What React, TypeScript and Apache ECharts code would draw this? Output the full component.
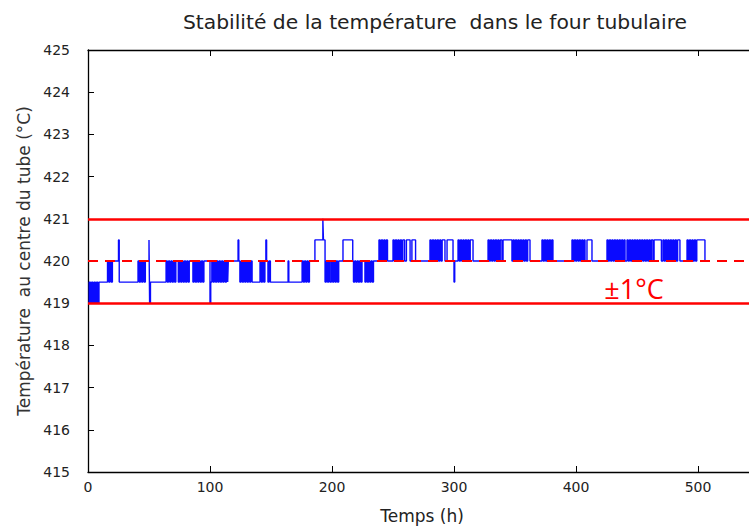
import React, { useEffect, useRef } from "react";
import * as echarts from "echarts";

// [hour, °C] step readings (value holds until the next reading)
const readings: [number, number][] = [
  [0, 419], [1, 419.5], [2, 419], [3, 419.5], [4, 419], [5, 419.5], [6, 419], [7, 419.5], [8, 419], [9, 419.5],
  [16, 420], [17, 419.5], [18, 420], [19, 419.5], [20, 420],
  [25, 420.5], [25.6, 419.5],
  [41, 420], [42, 419.5], [43, 420], [44, 419.5], [45, 420], [46, 419.5], [47, 420],
  [50, 420.5], [50.5, 419], [51.2, 419.5],
  [64, 420], [65, 419.5], [66, 420], [67, 419.5], [68, 420], [69, 419.5], [70, 420], [71, 419.5], [72, 420],
  [74, 419.5], [75, 420], [76, 419.5], [77, 420], [78, 419.5], [79, 420], [80, 419.5], [81, 420], [82, 419.5], [83, 420],
  [86, 419.5], [87, 420], [88, 419.5], [89, 420], [90, 419.5], [91, 420], [92, 419.5], [93, 420], [94, 419.5], [95, 420],
  [100, 419], [100.6, 419.5], [101.5, 420], [102.5, 419.5], [103.5, 420], [104.5, 419.5], [105.5, 420], [106.5, 419.5],
  [107.5, 420], [108.5, 419.5], [109.5, 420], [110.5, 419.5], [111.5, 420], [112.5, 419.5], [113.5, 420], [114.5, 419.5], [115, 420],
  [123, 420.5], [123.6, 420],
  [124.5, 419.5], [125.5, 420], [126.5, 419.5], [127.5, 420], [128.5, 419.5], [129.5, 420], [130.5, 419.5], [131.5, 420],
  [132.5, 419.5], [133.5, 420], [134.5, 419.5],
  [141, 420], [142, 419.5], [143, 420], [144, 419.5], [145, 420], [145.8, 420.5], [146.4, 420], [147.5, 419.5], [148.5, 420], [149.5, 419.5],
  [164, 420], [164.6, 419.5],
  [175.5, 420], [176.5, 419.5], [177.5, 420], [178.5, 419.5], [179.5, 420], [180.5, 419.5], [181.5, 420],
  [186, 420.5], [192.5, 421], [193, 420.5], [194.3, 419.5], [195.3, 420], [196.3, 419.5], [197.3, 420], [198.3, 419.5],
  [199.5, 420], [200.5, 419.5], [201.5, 420], [202.5, 419.5], [203.5, 420], [204.5, 419.5], [205.5, 420],
  [209, 420.5], [217, 420], [217.6, 419.5], [218.6, 420], [219.6, 419.5], [220.6, 420], [221.6, 419.5], [222.6, 420], [223.6, 419.5], [224.6, 420],
  [227, 419.5], [228, 420], [229, 419.5], [230, 420], [231, 419.5], [232, 420], [233, 419.5], [234, 420],
  [238.5, 420.5], [239.5, 420], [240.5, 420.5], [241.5, 420], [242.5, 420.5], [243.5, 420], [244.5, 420.5], [245.5, 420],
  [250, 420.5], [251, 420], [252, 420.5], [253, 420], [254, 420.5], [255, 420], [256, 420.5], [257, 420], [258, 420.5], [259.5, 420],
  [261, 420.5], [264, 420], [265.5, 420.5], [268.5, 420],
  [280.3, 420.5], [281.3, 420], [282.3, 420.5], [283.3, 420], [284.3, 420.5], [285.3, 420], [286.3, 420.5], [287.3, 420],
  [288.3, 420.5], [289.3, 420], [290.3, 420.5], [292.6, 420],
  [294.3, 420.5], [299.2, 420], [300, 419.5], [300.6, 420],
  [303.3, 420.5], [304.3, 420], [305.3, 420.5], [306.3, 420], [307.3, 420.5], [308.3, 420], [309.3, 420.5], [310.3, 420],
  [311.3, 420.5], [312.3, 420], [313.3, 420.5], [315.6, 420],
  [327.9, 420.5], [328.9, 420], [329.9, 420.5], [330.9, 420], [331.9, 420.5], [332.9, 420], [333.9, 420.5], [334.9, 420],
  [335.9, 420.5], [336.9, 420], [337.9, 420.5], [339.3, 420],
  [340.2, 420.5], [347.5, 420],
  [348.4, 420.5], [349.4, 420], [350.4, 420.5], [351.4, 420], [352.4, 420.5], [353.4, 420], [354.4, 420.5], [355.4, 420],
  [356.4, 420.5], [357.4, 420], [358.4, 420.5], [359.4, 420], [360.4, 420.5], [362.3, 420],
  [372.1, 420.5], [373.1, 420], [374.1, 420.5], [375.1, 420], [376.1, 420.5], [377.1, 420], [378.1, 420.5], [379.1, 420], [380.1, 420.5], [381.1, 420],
  [396.7, 420.5], [397.7, 420], [398.7, 420.5], [399.7, 420], [400.7, 420.5], [401.7, 420], [402.7, 420.5], [403.7, 420],
  [404.7, 420.5], [405.7, 420], [406.7, 420.5], [407.4, 420],
  [409, 420.5], [413.1, 420],
  [425.4, 420.5], [426.4, 420], [427.4, 420.5], [428.4, 420], [429.4, 420.5], [430.4, 420], [431.4, 420.5], [432.4, 420],
  [433.4, 420.5], [434.4, 420], [435.4, 420.5], [436.4, 420], [437.4, 420.5], [438.4, 420], [439.4, 420.5], [440.2, 420],
  [441.8, 420.5], [442.8, 420], [443.8, 420.5], [444.8, 420], [445.8, 420.5], [446.8, 420], [447.8, 420.5], [448.8, 420],
  [449.8, 420.5], [450.8, 420], [451.8, 420.5], [452.8, 420], [453.8, 420.5], [454.8, 420], [455.8, 420.5], [456.8, 420],
  [457.8, 420.5], [458.8, 420], [459.8, 420.5], [460.8, 420], [461.8, 420.5], [463.1, 420],
  [464, 420.5], [470, 420],
  [471.3, 420.5], [472.3, 420], [473.3, 420.5], [474.3, 420], [475.3, 420.5], [476.3, 420], [477.3, 420.5], [478.3, 420],
  [479.3, 420.5], [480.3, 420], [481.3, 420.5], [482.3, 420], [483.3, 420.5], [485.2, 420],
  [491, 420.5], [492, 420], [493, 420.5], [494, 420], [495, 420.5], [496, 420], [497, 420.5], [498, 420], [499, 420.5],
  [505.7, 420], [506, 420],
];

const setpoint = 420;
const upperLimit = 421;
const lowerLimit = 419;
const toleranceLabel = "±1°C";

const titleText = "Stabilité de la température  dans le four tubulaire";
const xName = "Temps (h)";
const yName = "Température  au centre du tube (°C)";

export default function App() {
  const ref = useRef<HTMLDivElement>(null);
  useEffect(() => {
    if (!ref.current) return;
    const chart = echarts.init(ref.current, undefined, { renderer: "svg" });
    const axisColor = "#000";
    chart.setOption({
      animation: false,
      backgroundColor: "#fff",
      grid: { left: 88, top: 50, width: 732, height: 422, outerBoundsMode: "none", containLabel: false },
      xAxis: [
        {
          type: "value",
          min: 0,
          max: 600,
          interval: 100,
          axisLine: { show: true, onZero: false, lineStyle: { color: axisColor, width: 1.3 } },
          axisTick: { show: true, inside: true, length: 6, lineStyle: { color: axisColor } },
          axisLabel: { margin: 8, color: "#222", fontSize: 14, fontFamily: "DejaVu Sans", showMaxLabel: false },
          splitLine: { show: false },
        },
        {
          type: "value",
          position: "top",
          min: 0,
          max: 600,
          interval: 100,
          axisLine: { show: true, onZero: false, lineStyle: { color: axisColor, width: 1.3 } },
          axisTick: { show: true, inside: true, length: 6, lineStyle: { color: axisColor } },
          axisLabel: { show: false },
          splitLine: { show: false },
        },
      ],
      yAxis: {
        type: "value",
        min: 415,
        max: 425,
        interval: 1,
        name: yName,
        nameLocation: "middle",
        nameRotate: 90,
        nameGap: 56,
        nameTextStyle: { color: "#333", fontSize: 17, fontFamily: "DejaVu Sans" },
        axisLine: { show: true, onZero: false, lineStyle: { color: axisColor, width: 1.3 } },
        axisTick: { show: true, inside: true, length: 6, lineStyle: { color: axisColor } },
        axisLabel: { margin: 18, color: "#222", fontSize: 14, fontFamily: "DejaVu Sans" },
        splitLine: { show: false },
      },
      graphic: [
        {
          type: "text",
          x: 435,
          y: 22,
          style: {
            text: titleText,
            fill: "#222",
            fontSize: 20.3,
            fontFamily: "DejaVu Sans",
            align: "center",
            verticalAlign: "middle",
            textAlign: "center",
            textVerticalAlign: "middle",
          },
        },
        {
          type: "text",
          x: 422,
          y: 516,
          style: {
            text: xName,
            fill: "#222",
            fontSize: 17,
            fontFamily: "DejaVu Sans",
            align: "center",
            verticalAlign: "middle",
            textAlign: "center",
            textVerticalAlign: "middle",
          },
        },
        {
          type: "text",
          x: 634,
          y: 288,
          z: 10,
          style: {
            text: toleranceLabel,
            fill: "#ff0000",
            fontSize: 27,
            fontFamily: "Open Sans",
            align: "center",
            verticalAlign: "middle",
            textAlign: "center",
            textVerticalAlign: "middle",
          },
        },
      ],
      series: [
        {
          type: "line",
          step: "end",
          data: readings,
          showSymbol: false,
          symbol: "none",
          lineStyle: { color: "#0a0aff", width: 1.4 },
          z: 2,
        },
        {
          type: "line",
          data: [],
          z: 3,
          markLine: {
            silent: true,
            symbol: "none",
            label: { show: false },
            data: [
              { yAxis: upperLimit, lineStyle: { color: "#ff0000", width: 2.5, type: "solid" } },
              { yAxis: lowerLimit, lineStyle: { color: "#ff0000", width: 2.5, type: "solid" } },
              { yAxis: setpoint, lineStyle: { color: "#ff0000", width: 2.2, type: [10, 7] } },
            ],
          },
        },
      ],
    });
    return () => chart.dispose();
  }, []);
  return (
    <div
      ref={ref}
      style={{ position: "fixed", left: 0, top: 0, width: 749, height: 526, background: "#fff" }}
    />
  );
}
